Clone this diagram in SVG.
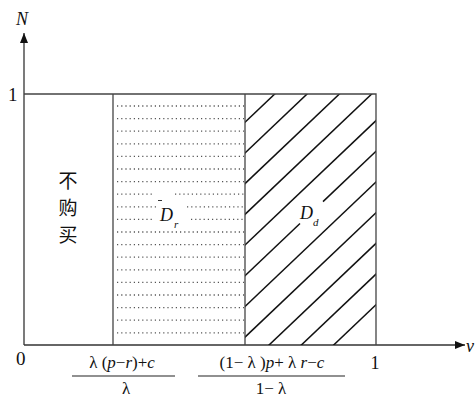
<svg xmlns="http://www.w3.org/2000/svg" width="476" height="397" viewBox="0 0 476 397">
<style>
.ax{stroke:#333;stroke-width:1.3;fill:none}
.bx{stroke:#444;stroke-width:1.3;fill:none}
.dt{stroke:#555;stroke-width:1.3;stroke-dasharray:1.2 3;fill:none}
.ht{stroke:#111;stroke-width:1.5;fill:none}
.t{font-family:"Liberation Serif","DejaVu Serif",serif;fill:#111}
.i{font-style:italic}
.cn{font-family:"Noto Sans CJK SC","Noto Sans CJK JP",sans-serif;font-size:19px;fill:#111}
</style>
<defs>
<marker id="ar" viewBox="0 0 10 8" refX="10" refY="4" markerWidth="10" markerHeight="8" markerUnits="userSpaceOnUse" orient="auto">
<path d="M0,0 L10,4 L0,8 Z" fill="#111"/>
</marker>
<clipPath id="hc"><rect x="245" y="94" width="131" height="251"/></clipPath>
</defs>
<g id="axes">
<line class="ax" x1="24" y1="345" x2="24" y2="33" marker-end="url(#ar)"/>
<line class="ax" x1="24" y1="345" x2="465" y2="345" marker-end="url(#ar)"/>
</g>
<g id="regions">
<g id="dots">
<line class="dt" x1="117" y1="106" x2="244" y2="106"/>
<line class="dt" x1="117" y1="118.6" x2="244" y2="118.6"/>
<line class="dt" x1="117" y1="131.2" x2="244" y2="131.2"/>
<line class="dt" x1="117" y1="143.8" x2="244" y2="143.8"/>
<line class="dt" x1="117" y1="156.4" x2="244" y2="156.4"/>
<line class="dt" x1="117" y1="169" x2="244" y2="169"/>
<line class="dt" x1="117" y1="181.6" x2="244" y2="181.6"/>
<line class="dt" x1="117" y1="194.2" x2="153" y2="194.2"/>
<line class="dt" x1="175" y1="194.2" x2="244" y2="194.2"/>
<line class="dt" x1="117" y1="206.8" x2="157" y2="206.8"/>
<line class="dt" x1="187" y1="206.8" x2="244" y2="206.8"/>
<line class="dt" x1="117" y1="219.4" x2="153" y2="219.4"/>
<line class="dt" x1="191" y1="219.4" x2="244" y2="219.4"/>
<line class="dt" x1="117" y1="232" x2="244" y2="232"/>
<line class="dt" x1="117" y1="244.6" x2="244" y2="244.6"/>
<line class="dt" x1="117" y1="257.2" x2="244" y2="257.2"/>
<line class="dt" x1="117" y1="269.8" x2="244" y2="269.8"/>
<line class="dt" x1="117" y1="282.4" x2="244" y2="282.4"/>
<line class="dt" x1="117" y1="295" x2="244" y2="295"/>
<line class="dt" x1="117" y1="307.6" x2="244" y2="307.6"/>
<line class="dt" x1="117" y1="320.2" x2="244" y2="320.2"/>
<line class="dt" x1="117" y1="332.8" x2="244" y2="332.8"/>
</g>
<g id="hatch" clip-path="url(#hc)">
<line class="ht" x1="200" y1="165" x2="420" y2="-44"/>
<line class="ht" x1="200" y1="195.7" x2="420" y2="-13.3"/>
<line class="ht" x1="200" y1="226.4" x2="420" y2="17.4"/>
<line class="ht" x1="200" y1="257.1" x2="420" y2="48.1"/>
<line class="ht" x1="200" y1="287.8" x2="420" y2="78.8"/>
<line class="ht" x1="200" y1="318.5" x2="300" y2="223.5"/>
<line class="ht" x1="323" y1="201.6" x2="420" y2="109.5"/>
<line class="ht" x1="200" y1="349.2" x2="420" y2="140.2"/>
<line class="ht" x1="200" y1="379.9" x2="420" y2="170.9"/>
<line class="ht" x1="200" y1="410.6" x2="420" y2="201.6"/>
<line class="ht" x1="200" y1="441.3" x2="420" y2="232.3"/>
<line class="ht" x1="200" y1="472" x2="420" y2="263"/>
</g>
<g id="box">
<path class="bx" d="M24,94 H376 V345"/>
<line class="bx" x1="113" y1="94" x2="113" y2="345"/>
<line class="bx" x1="245" y1="94" x2="245" y2="345"/>
</g>
</g>
<g id="labels">
<text class="t i" x="16" y="25" font-size="18">N</text>
<text class="t" x="8" y="101" font-size="19">1</text>
<text class="t" x="16" y="365" font-size="19">0</text>
<text class="t i" x="466" y="352" font-size="18">v</text>
<text class="t" x="375" y="369" font-size="18" text-anchor="middle">1</text>
<text class="cn" x="68" y="188" text-anchor="middle">不</text>
<text class="cn" x="68" y="215" text-anchor="middle">购</text>
<text class="cn" x="68" y="242" text-anchor="middle">买</text>
<g id="Dr">
<line x1="158" y1="200.5" x2="162" y2="200.5" stroke="#333" stroke-width="1"/>
<text class="t i" x="160" y="221" font-size="18">D</text>
<text class="t i" x="174" y="228" font-size="11">r</text>
</g>
<g id="Dd">
<text class="t i" x="300" y="219" font-size="18">D</text>
<text class="t i" x="313" y="226" font-size="11">d</text>
</g>
<g id="frac1">
<text class="t" x="122" y="368" font-size="17" text-anchor="middle">λ (<tspan class="i">p</tspan>−<tspan class="i">r</tspan>)+<tspan class="i">c</tspan></text>
<line x1="72" y1="376" x2="175" y2="376" stroke="#222" stroke-width="1.2"/>
<text class="t" x="126" y="394" font-size="17" text-anchor="middle">λ</text>
</g>
<g id="frac2">
<text class="t" x="272" y="368" font-size="17" text-anchor="middle">(1− λ )<tspan class="i">p</tspan>+ λ <tspan class="i">r</tspan>−<tspan class="i">c</tspan></text>
<line x1="198" y1="376" x2="345" y2="376" stroke="#222" stroke-width="1.2"/>
<text class="t" x="271" y="394" font-size="17" text-anchor="middle">1− λ</text>
</g>
</g>
</svg>
